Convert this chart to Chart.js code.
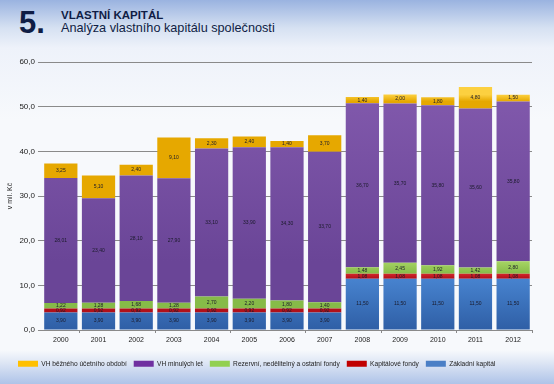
<!DOCTYPE html>
<html>
<head>
<meta charset="utf-8">
<script src="https://cdn.jsdelivr.net/npm/chart.js@4"></script>
<style>
  html, body { margin: 0; padding: 0; }
  body {
    width: 554px; height: 384px; overflow: hidden; position: relative;
    font-family: "Liberation Sans", Arial, sans-serif;
    background: linear-gradient(to bottom, #9ab3e0 0px, #d6e1f2 28px, #eef2fa 48px, #f7f9fc 120px, #f7f9fc 350px, #dfe7f5 362px, #aec3e8 384px);
  }
  #num { position: absolute; left: 19px; top: 5px; font-size: 31px; font-weight: bold; color: #0f1d45; }
  #t1 { position: absolute; left: 61px; top: 9px; font-size: 11.5px; font-weight: bold; color: #0f1d45; }
  #t2 { position: absolute; left: 61px; top: 21px; font-size: 12.7px; color: #0f1d45; }
  #wrap { position: absolute; left: 0; top: 0; width: 554px; height: 384px; }
</style>
</head>
<body>
<div id="num">5.</div>
<div id="t1">VLASTNÍ KAPITÁL</div>
<div id="t2">Analýza vlastního kapitálu společnosti</div>
<div id="wrap"><canvas id="chart"></canvas></div>
<script>
const years = ['2000','2001','2002','2003','2004','2005','2006','2007','2008','2009','2010','2011','2012'];
const zakladni = [3.90, 3.90, 3.90, 3.90, 3.90, 3.90, 3.90, 3.90, 11.50, 11.50, 11.50, 11.50, 11.50];
const kapitalove = [0.92, 0.92, 0.92, 0.92, 0.92, 0.92, 0.92, 0.92, 1.08, 1.08, 1.08, 1.08, 1.08];
const fondy = [1.22, 1.28, 1.68, 1.28, 2.70, 2.20, 1.80, 1.40, 1.48, 2.45, 1.92, 1.42, 2.80];
const vhMinulych = [28.01, 23.40, 28.10, 27.90, 33.10, 33.90, 34.30, 33.70, 36.70, 35.70, 35.80, 35.60, 35.80];
const vhBezneho = [3.25, 5.10, 2.40, 9.10, 2.30, 2.40, 1.40, 3.70, 1.40, 2.00, 1.80, 4.80, 1.50];
const yTicks = [0, 10, 20, 30, 40, 50, 60];

const fmt = v => v.toFixed(2).replace('.', ',');

// values written in the middle of every segment
const segmentLabels = {
  id: 'segmentLabels',
  afterDatasetsDraw(chart) {
    const c = chart.ctx;
    c.save();
    c.font = '5px "Liberation Sans", Arial, sans-serif';
    c.fillStyle = '#1a1a2a';
    c.textAlign = 'center';
    c.textBaseline = 'middle';
    chart.data.datasets.forEach((ds, i) => {
      chart.getDatasetMeta(i).data.forEach((el, j) => {
        c.fillText(fmt(ds.data[j]), el.x, (el.y + el.base) / 2);
      });
    });
    c.restore();
  }
};

// vertical shading inside each segment
const shade = {
  id: 'shade',
  beforeDatasetsDraw(chart) {
    const c = chart.ctx;
    chart.data.datasets.forEach((ds, i) => {
      chart.getDatasetMeta(i).data.forEach(el => {
        const g = c.createLinearGradient(0, el.y, 0, el.base);
        g.addColorStop(0, ds.topColor);
        g.addColorStop(1, ds.bottomColor);
        el.options.backgroundColor = g;
      });
    });
  }
};

// legend sits a bit left of centre in the original
const legendShift = {
  id: 'legendShift',
  afterLayout(chart) {
    chart.legend.left += 7;
    chart.legend.right += 7;
  }
};

const ctx = document.getElementById('chart').getContext('2d');
new Chart(ctx, {
  type: 'bar',
  data: {
    labels: years,
    datasets: [
      { label: 'Základní kapitál', data: zakladni, backgroundColor: '#4a7fc6', topColor: '#4783cf', bottomColor: '#2f5fa6' },
      { label: 'Kapitálové fondy', data: kapitalove, backgroundColor: '#c00000', topColor: '#d2262c', bottomColor: '#b0101a' },
      { label: 'Rezervní, nedělitelný a ostatní fondy', data: fondy, backgroundColor: '#92d050', topColor: '#a6d464', bottomColor: '#86bb48' },
      { label: 'VH minulých let', data: vhMinulych, backgroundColor: '#7030a0', topColor: '#8058ab', bottomColor: '#6a4597' },
      { label: 'VH běžného účetního období', data: vhBezneho, backgroundColor: '#ffc000', topColor: '#fcd040', bottomColor: '#e6a800' }
    ]
  },
  options: {
    responsive: true,
    maintainAspectRatio: false,
    animation: false,
    layout: { padding: { top: 62, left: 4, right: 22, bottom: 7 } },
    datasets: { bar: { categoryPercentage: 0.9, barPercentage: 0.98 } },
    plugins: {
      legend: {
        position: 'bottom',
        align: 'start',
        reverse: true,
        labels: {
          boxWidth: 20, boxHeight: 6, padding: 7,
          color: '#222', font: { size: 6.6, family: '"Liberation Sans", Arial, sans-serif' }
        }
      },
      tooltip: { enabled: false }
    },
    scales: {
      x: {
        stacked: true,
        afterFit: axis => { axis.height += 6; },
        grid: {
          offset: true, drawOnChartArea: false, drawTicks: true, tickLength: 3,
          color: c => (c.index === undefined || c.index % 2 === 1) ? '#888' : 'rgba(0,0,0,0)'
        },
        border: { display: false },
        ticks: { color: '#222', font: { size: 7 }, padding: 3 }
      },
      y: {
        stacked: true,
        min: 0, max: 60,
        afterBuildTicks: axis => { axis.ticks = yTicks.map(v => ({ value: v })); },
        grid: { color: '#8a8a8a', tickLength: 4 },
        border: { display: false },
        ticks: { color: '#222', font: { size: 8 }, padding: 3, callback: v => v.toFixed(1).replace('.', ',') },
        title: { display: true, text: 'v mil. Kč', color: '#222', font: { size: 7 }, padding: 2 }
      }
    }
  },
  plugins: [shade, segmentLabels, legendShift]
});
</script>
</body>
</html>
